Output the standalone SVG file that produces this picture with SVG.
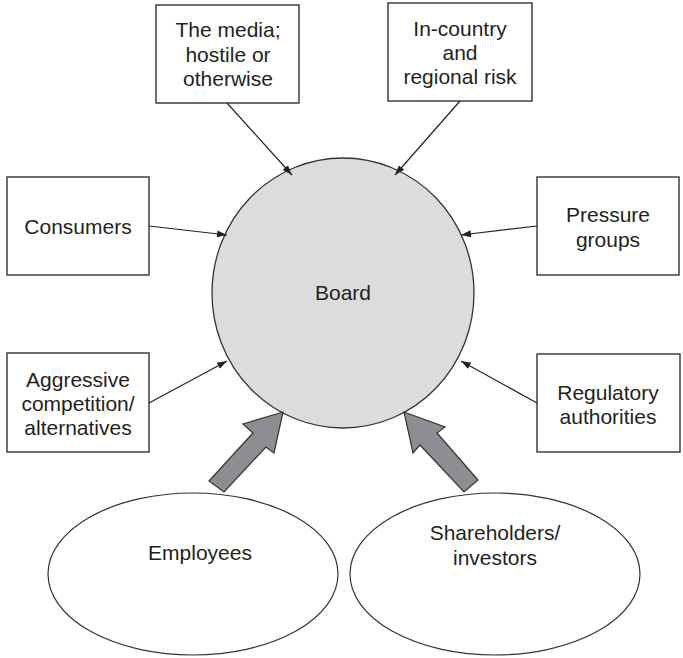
<svg xmlns="http://www.w3.org/2000/svg" width="683" height="658" viewBox="0 0 683 658">
<style>
.box{fill:#fff;stroke:#333;stroke-width:1.4}
.ell{fill:#fff;stroke:#333;stroke-width:1.2}
.t{font-family:"Liberation Sans",Arial,sans-serif;font-size:21px;fill:#231f20;text-anchor:middle}
.con{stroke:#222;stroke-width:1.2;fill:none;marker-end:url(#ah)}
.big{fill:#8d8e92;stroke:#333;stroke-width:1.2;stroke-linejoin:miter}
</style>
<defs>
<marker id="ah" viewBox="0 0 10 10" refX="10" refY="5" markerWidth="10" markerHeight="10" markerUnits="userSpaceOnUse" orient="auto">
<path d="M0,1.5 L10,5 L0,8.5 Z" fill="#222"/>
</marker>
</defs>
<rect width="683" height="658" fill="#fff"/>
<g id="board">
<ellipse cx="343" cy="293" rx="131" ry="135" fill="#dcdcdf" stroke="#333" stroke-width="1.3"/>
<text class="t" x="343" y="300">Board</text>
</g>
<g id="media">
<rect class="box" x="156" y="5" width="143" height="98"/>
<text class="t" x="228" y="37">The media;</text>
<text class="t" x="228" y="62">hostile or</text>
<text class="t" x="228" y="86">otherwise</text>
</g>
<g id="incountry">
<rect class="box" x="388" y="3" width="144" height="98"/>
<text class="t" x="460" y="36">In-country</text>
<text class="t" x="460" y="60">and</text>
<text class="t" x="460" y="84">regional risk</text>
</g>
<g id="consumers">
<rect class="box" x="7" y="177" width="142" height="98"/>
<text class="t" x="78" y="234">Consumers</text>
</g>
<g id="pressure">
<rect class="box" x="537" y="177" width="142" height="98"/>
<text class="t" x="608" y="222">Pressure</text>
<text class="t" x="608" y="247">groups</text>
</g>
<g id="aggressive">
<rect class="box" x="7" y="353" width="142" height="99"/>
<text class="t" x="78" y="387">Aggressive</text>
<text class="t" x="78" y="411">competition/</text>
<text class="t" x="78" y="435">alternatives</text>
</g>
<g id="regulatory">
<rect class="box" x="537" y="354" width="143" height="98"/>
<text class="t" x="608" y="400">Regulatory</text>
<text class="t" x="608" y="424">authorities</text>
</g>
<g id="employees">
<ellipse class="ell" cx="193" cy="574" rx="145" ry="81"/>
<text class="t" x="200" y="560">Employees</text>
</g>
<g id="shareholders">
<ellipse class="ell" cx="495" cy="574" rx="145" ry="81"/>
<text class="t" x="495" y="540">Shareholders/</text>
<text class="t" x="495" y="565">investors</text>
</g>
<g id="connectors">
<line class="con" x1="227" y1="103" x2="292" y2="175"/>
<line class="con" x1="460" y1="101" x2="395" y2="175"/>
<line class="con" x1="149" y1="226" x2="227" y2="235"/>
<line class="con" x1="537" y1="226" x2="461" y2="235"/>
<line class="con" x1="149" y1="403" x2="227" y2="361"/>
<line class="con" x1="537" y1="403" x2="461" y2="361"/>
<polygon class="big" points="283,412 274,453 266,447 224,492 209,481 253,433 243,424"/>
<polygon class="big" points="404,412 445,427 437,433 478,480 464,492 420,445 413,453"/>
</g>
</svg>
